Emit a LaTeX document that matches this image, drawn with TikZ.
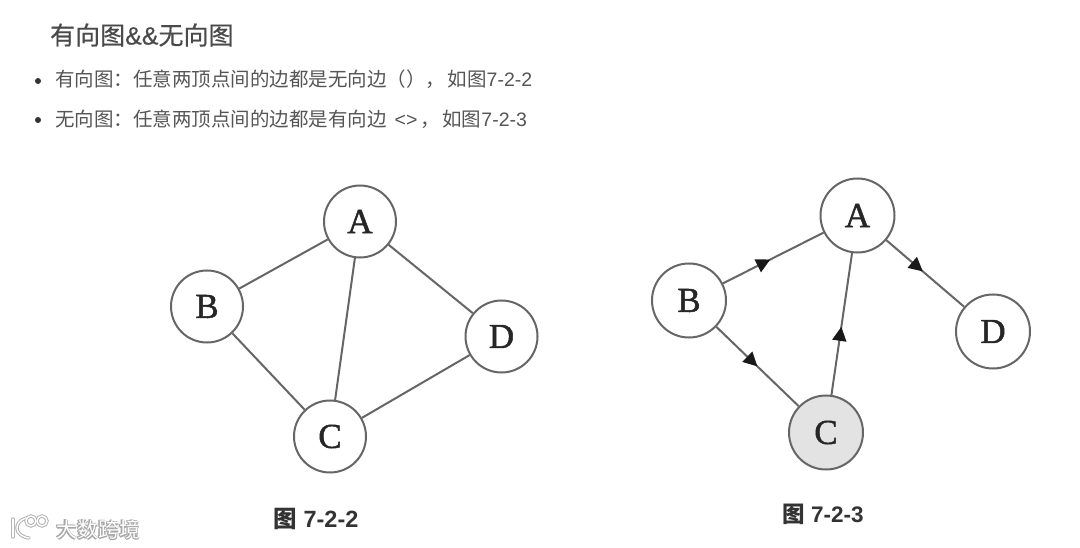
\documentclass[tikz,border=0pt]{standalone}
\usepackage{fontspec}
\setmainfont{Liberation Sans}
\newfontfamily\cjk{Noto Sans CJK SC}
\newfontfamily\cjkt[FakeBold=0.5]{Noto Sans CJK SC}
\newfontfamily\latt[FakeBold=0.5]{Liberation Sans}
\newfontfamily\serifl[FakeBold=1.4]{Liberation Serif}
\usetikzlibrary{arrows.meta,decorations.markings}
\definecolor{ink}{HTML}{4A4A4A}
\definecolor{txt}{HTML}{555555}
\definecolor{edgec}{HTML}{666666}
\tikzset{
  x=1pt,y=-1pt,
  vert/.style={circle,draw=edgec,line width=2pt,fill=white,minimum size=72pt,inner sep=0pt,text=black!85,font=\serifl\fontsize{35}{35}\selectfont},
  vertb/.style={vert,minimum size=74pt},
  edgel/.style={draw=edgec,line width=2pt},
  arrowmid/.style={edgel,postaction={decorate},decoration={markings,mark=at position #1 with {\arrow[black!90]{Triangle[length=14pt,width=14pt]}}}},
  titlet/.style={anchor=west,inner sep=0pt,text=ink,font=\cjkt\fontsize{25}{25}\selectfont},
  linet/.style={anchor=west,inner sep=0pt,text=txt,font=\cjk\fontsize{19.5}{19.5}\selectfont},
  bul/.style={circle,fill=black!80,inner sep=0pt,minimum size=6pt},
  capt/.style={inner sep=0pt,text=black!80,font=\bfseries\fontsize{23.5}{23.5}\selectfont},
  wm/.style={inner sep=0pt,anchor=west,text=black!35,font=\cjk\bfseries\fontsize{21}{21}\selectfont},
  logoout/.style={draw=black!30,line width=3.4pt,line cap=round},
  logoin/.style={draw=white,line width=1.4pt,line cap=round},
}
\newcommand{\lat}[1]{{\fontspec{Liberation Sans}#1}}
\begin{document}
\begin{tikzpicture}
\useasboundingbox (0,0) rectangle (1080,548);
\fill[white] (0,0) rectangle (1080,548);
% heading
\node[titlet] (title) at (50,35) {有向图{\latt\&\&}无向图};
\node[bul] (b1) at (38,81) {};
\node[linet] (l1) at (55,79) {有向图：任意两顶点间的边都是无向边（），\hspace{2.5pt}如图\lat{7-2-2}};
\node[bul] (b2) at (38,120) {};
\node[linet] (l2) at (55,119) {无向图：任意两顶点间的边都是有向边\hspace{8pt}\lat{<>}\hspace{3pt}，\hspace{2.5pt}如图\lat{7-2-3}};
% left graph
\node[vert] (A1) at (360,221.5) {A};
\node[vert] (B1) at (207,306.5) {B};
\node[vert] (C1) at (330,436.5) {C};
\node[vert] (D1) at (501.5,336.5) {D};
\draw[edgel] (A1) -- (B1);
\draw[edgel] (A1) -- (C1);
\draw[edgel] (A1) -- (D1);
\draw[edgel] (B1) -- (C1);
\draw[edgel] (C1) -- (D1);
\node[capt] (cap1) at (316,519) {{\cjk\bfseries 图} 7-2-2};
% right graph
\node[vertb] (A2) at (857.5,215.5) {A};
\node[vertb] (B2) at (689,300.5) {B};
\node[vertb,fill=black!11] (C2) at (826,432.5) {C};
\node[vertb] (D2) at (993,331.5) {D};
\draw[arrowmid=0.47] (B2) -- (A2);
\draw[arrowmid=0.5] (B2) -- (C2);
\draw[arrowmid=0.48] (C2) -- (A2);
\draw[arrowmid=0.47] (A2) -- (D2);
\node[capt,font=\bfseries\fontsize{22.5}{22.5}\selectfont] (cap2) at (823,514) {{\cjk\bfseries 图} 7-2-3};
% watermark
\draw[logoout] (13,519) -- (13,537);
\draw[logoout] (26,518) .. controls (13,522) and (14,536) .. (29,538);
\draw[logoout] (31,521) circle[radius=5];
\draw[logoout] (42,521) circle[radius=5];
\draw[logoin] (13,519) -- (13,537);
\draw[logoin] (26,518) .. controls (13,522) and (14,536) .. (29,538);
\draw[logoin] (31,521) circle[radius=5];
\draw[logoin] (42,521) circle[radius=5];
\node[wm] (wmshadow) at (56.7,530) {大数跨境};
\node[wm] (wmshadow2) at (55.3,529) {大数跨境};
\node[wm,text=white,font=\cjk\fontsize{21}{21}\selectfont] (wmark) at (56,529.5) {大数跨境};
\end{tikzpicture}
\end{document}
